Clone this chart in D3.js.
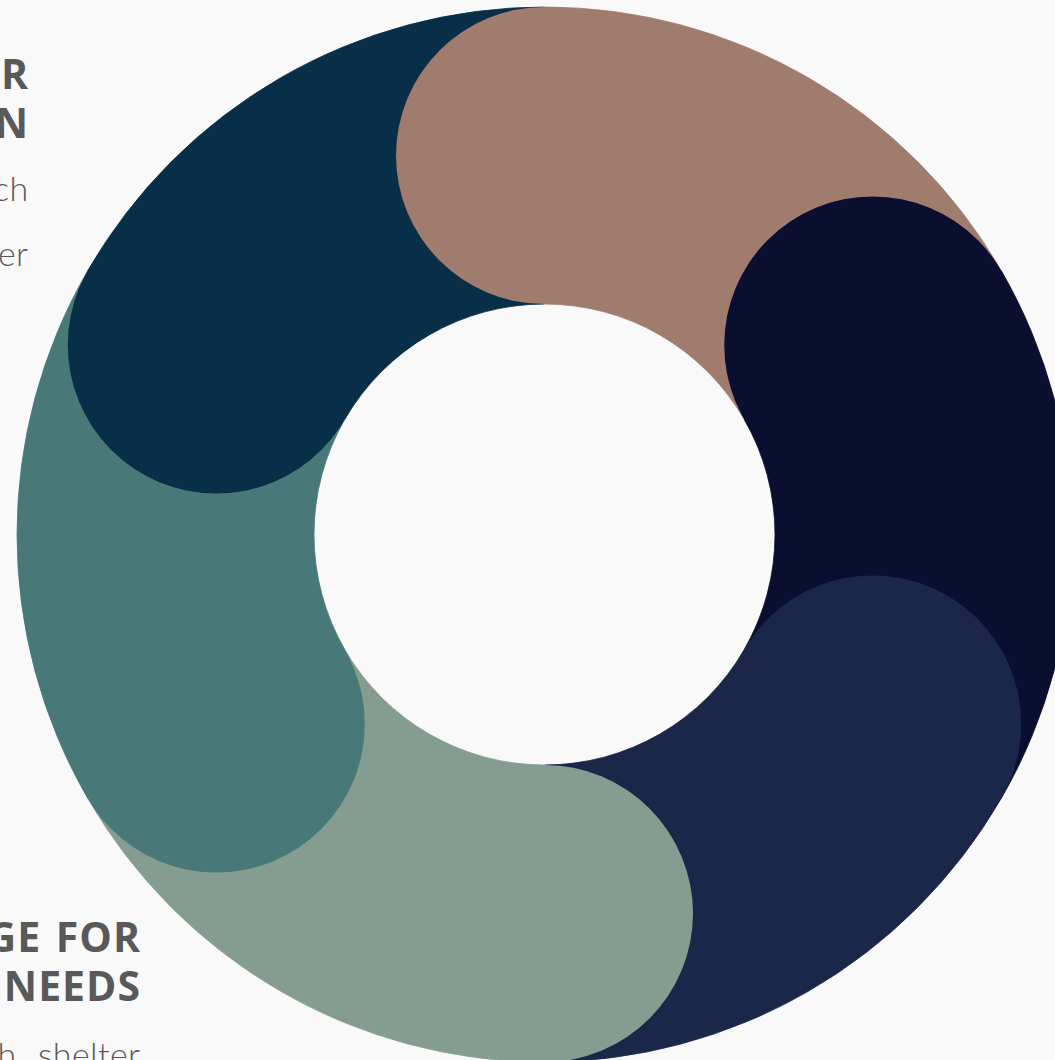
<!DOCTYPE html>
<html>
<head>
<meta charset="utf-8">
<script src="https://cdn.jsdelivr.net/npm/d3@7"></script>
<style>
  html, body { margin: 0; padding: 0; background: #f9f9f9; overflow: hidden; }
  svg { display: block; }
</style>
</head>
<body>
<svg id="chart" width="1055" height="1060"></svg>
<script>
// ---- data ----
const categories = ["Education", "Employment", "Health", "Basic needs", "Community", "Inclusion"];
const values = [1, 1, 1, 1, 1, 1];
const colors = ["#9f7c6d", "#0b0f2f", "#1b2748", "#849d90", "#487877", "#082e48"];

const topTitle = ["SUPPORT FOR", "EDUCATION"];
const topBody = ["Access to school, such", "as books and better"];
const bottomTitle = ["CHALLENGE FOR", "BASIC NEEDS"];
const bottomBody = ["Food, health, shelter"];

// ---- layout ----
const svg = d3.select("#chart");
const cx = 544.5, cy = 534.5;
const rInner = 230.5, rOuter = 527.5;
const rMid = (rInner + rOuter) / 2;
const capR = (rOuter - rInner) / 2;

// labels (drawn beneath the ring)
const labels = svg.append("g").attr("class", "labels");
function block(x, y0, titles, bodies, bodyStart) {
  titles.forEach((t, i) => {
    labels.append("text")
      .attr("x", x + 1).attr("y", y0 + i * 49)
      .attr("text-anchor", "end")
      .attr("font-family", "'Open Sans', sans-serif")
      .attr("font-weight", 700)
      .attr("font-size", 41)
      .attr("letter-spacing", 1)
      .attr("word-spacing", 3)
      .attr("fill", "#595959")
      .text(t);
  });
  bodies.forEach((t, i) => {
    labels.append("text")
      .attr("x", x + 0.5).attr("y", bodyStart + i * 65)
      .attr("text-anchor", "end")
      .attr("font-family", "Lato, sans-serif")
      .attr("font-weight", 300)
      .attr("font-size", 34)
      .attr("letter-spacing", 0.4)
      .attr("word-spacing", 4)
      .attr("fill", "#595959")
      .text(t);
  });
}
block(28, 89, topTitle, topBody, 201);
block(140, 952, bottomTitle, bottomBody, 1067);

// ---- donut ----
const pie = d3.pie().sort(null).value(d => d)(values);
const arc = d3.arc().innerRadius(rInner).outerRadius(rOuter);
const g = svg.append("g").attr("transform", `translate(${cx},${cy})`);

g.selectAll("path.seg")
  .data(pie)
  .join("path")
  .attr("class", "seg")
  .attr("d", d => arc({ startAngle: d.startAngle, endAngle: d.endAngle }))
  .attr("fill", (d, i) => colors[i])
  .attr("stroke", (d, i) => colors[i])
  .attr("stroke-width", 0.8);

// rounded start caps overlapping the previous segment
g.selectAll("circle.cap")
  .data(pie)
  .join("circle")
  .attr("class", "cap")
  .attr("cx", d => rMid * Math.sin(d.startAngle))
  .attr("cy", d => -rMid * Math.cos(d.startAngle))
  .attr("r", capR)
  .attr("fill", (d, i) => colors[i]);
</script>
</body>
</html>
